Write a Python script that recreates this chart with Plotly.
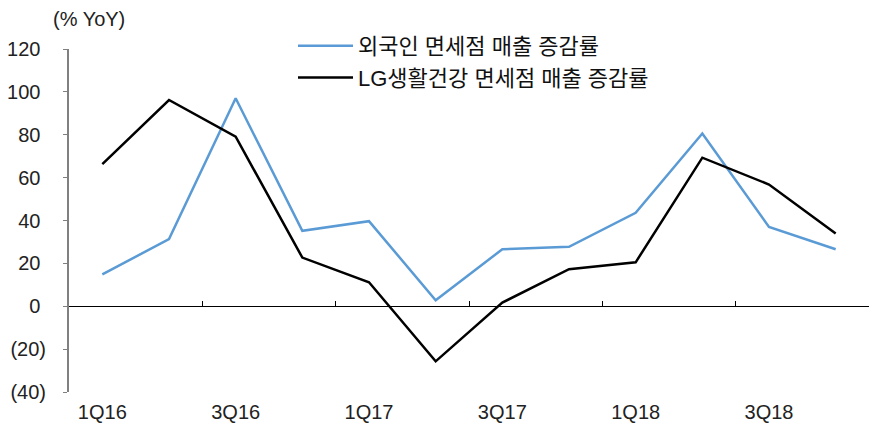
import plotly.graph_objects as go

quarters = ["1Q16", "2Q16", "3Q16", "4Q16", "1Q17", "2Q17", "3Q17", "4Q17",
            "1Q18", "2Q18", "3Q18", "4Q18"]
foreign_dfs = [14.9, 31.3, 97.0, 35.2, 39.7, 2.8, 26.6, 27.7, 43.6, 80.6, 37.0, 26.6]
lghh_dfs = [66.3, 96.2, 79.1, 22.7, 11.2, -25.7, 1.7, 17.3, 20.5, 69.3, 56.8, 33.9]
series_names = ["외국인 면세점 매출 증감률", "LG생활건강 면세점 매출 증감률"]
y_ticks = [-40, -20, 0, 20, 40, 60, 80, 100, 120]
y_tick_text = ["(40)", "(20)", "0\u00a0", "20\u00a0", "40\u00a0", "60\u00a0", "80\u00a0",
               "100\u00a0", "120\u00a0"]

idx = list(range(len(quarters)))
FONT = "Liberation Sans, Noto Sans CJK KR, sans-serif"

fig = go.Figure()
fig.add_trace(go.Scatter(x=idx, y=foreign_dfs, mode="lines", name=series_names[0],
                         line=dict(color="#5B9BD5", width=2.5), legendgroup="a"))
fig.add_trace(go.Scatter(x=idx, y=lghh_dfs, mode="lines", name=series_names[1],
                         line=dict(color="#000000", width=2.5), legendgroup="b"))
# invisible trace to drive the zero-line axis
fig.add_trace(go.Scatter(x=[-0.5, 11.5], y=[0, 0], mode="lines", xaxis="x2",
                         line=dict(color="rgba(0,0,0,0)"), showlegend=False, hoverinfo="skip"))

fig.update_layout(
    width=870, height=427,
    margin=dict(l=69, r=1, t=49, b=35),
    paper_bgcolor="white", plot_bgcolor="white",
    font=dict(family=FONT, size=20, color="#222222"),
    xaxis=dict(range=[-0.5, 11.5], tickmode="array", tickvals=idx[::2],
               ticktext=quarters[::2], showline=False, ticks="", showgrid=False,
               zeroline=False, tickfont=dict(size=20), ticklabelstandoff=6),
    xaxis2=dict(range=[-0.5, 11.5], overlaying="x", anchor="free", position=0.25,
                side="bottom", showline=True, linecolor="#000000", linewidth=1.2,
                ticks="inside", ticklen=5, tickcolor="#000000", tickwidth=1,
                tickmode="array", tickvals=[i + 1.5 for i in range(0, 11, 2)],
                showticklabels=False, showgrid=False, zeroline=False),
    yaxis=dict(range=[-40, 120], tickmode="array", tickvals=y_ticks, ticktext=y_tick_text,
               showline=True, linecolor="#808080", linewidth=2, ticks="outside",
               ticklen=4, tickcolor="#808080", showgrid=False, zeroline=False,
               tickfont=dict(size=20), ticklabelstandoff=13),
    legend=dict(x=0.28, y=1.07, xanchor="left", yanchor="top", bgcolor="rgba(0,0,0,0)",
                font=dict(size=22, color="#111111"), tracegroupgap=0, traceorder="grouped",
                itemwidth=55),
    annotations=[dict(text="(% YoY)", xref="paper", yref="paper", x=-0.022, y=1.088,
                      xanchor="left", yanchor="middle", showarrow=False,
                      font=dict(size=20, color="#222222"))],
)

fig.write_html("out.html")
